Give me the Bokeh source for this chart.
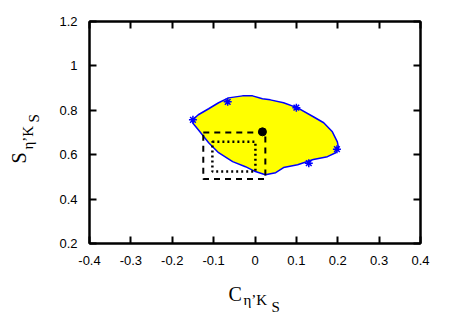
import math
from bokeh.plotting import figure
from bokeh.models import Range1d, LinearAxis, FixedTicker, Label, CustomJSTickFormatter
from bokeh.embed import file_html
from bokeh.resources import INLINE

# ---- data ----
x_ticks = [-0.4, -0.3, -0.2, -0.1, 0.0, 0.1, 0.2, 0.3, 0.4]
x_tick_labels = ["-0.4", "-0.3", "-0.2", "-0.1", "0", "0.1", "0.2", "0.3", "0.4"]
y_ticks = [0.2, 0.4, 0.6, 0.8, 1.0, 1.2]
y_tick_labels = ["0.2", "0.4", "0.6", "0.8", "1", "1.2"]

# allowed region (yellow) boundary
blob_x = [-0.151, -0.137, -0.112, -0.088, -0.064, -0.030, -0.006, 0.018, 0.037, 0.069,
          0.103, 0.141, 0.166, 0.187, 0.199, 0.202, 0.195, 0.175, 0.141, 0.103,
          0.069, 0.050, 0.025, 0.001, -0.023, -0.054, -0.088, -0.112, -0.137, -0.149]
blob_y = [0.757, 0.780, 0.807, 0.834, 0.856, 0.865, 0.865, 0.852, 0.847, 0.834,
          0.811, 0.771, 0.744, 0.703, 0.658, 0.631, 0.609, 0.591, 0.578, 0.555,
          0.542, 0.519, 0.510, 0.524, 0.546, 0.569, 0.609, 0.654, 0.712, 0.739]
edge_x = [-0.150, -0.066, 0.100, 0.130, 0.198]
edge_y = [0.757, 0.838, 0.812, 0.562, 0.625]

# experimental ranges
dash_box = dict(left=-0.125, right=0.025, bottom=0.49, top=0.70)
dot_box = dict(left=-0.103, right=0.001, bottom=0.524, top=0.658)
point_x = [0.018]
point_y = [0.703]

p = figure(width=442, height=315, output_backend="svg", toolbar_location=None,
           x_range=Range1d(-0.4, 0.4), y_range=Range1d(0.2, 1.2),
           min_border_left=89, min_border_right=22, min_border_top=21, min_border_bottom=72,
           background_fill_color="white", border_fill_color="white")
p.xgrid.visible = False
p.ygrid.visible = False
p.outline_line_color = "black"
p.outline_line_width = 2

def style(ax, ticks, labels, show):
    ax.ticker = FixedTicker(ticks=ticks)
    ax.axis_line_width = 2
    ax.major_tick_line_width = 2
    ax.major_tick_in = 7
    ax.major_tick_out = 0
    ax.minor_tick_line_color = None
    if show:
        ax.major_label_overrides = {t: l for t, l in zip(ticks, labels)}
        ax.major_label_text_font = "Liberation Sans"
        ax.major_label_text_font_size = "13px"
        ax.major_label_text_color = "black"
    else:
        ax.formatter = CustomJSTickFormatter(code="return ''")
        ax.major_label_text_font_size = "1px"
        ax.major_label_standoff = 0

style(p.xaxis[0], x_ticks, x_tick_labels, True)
style(p.yaxis[0], y_ticks, y_tick_labels, True)
p.xaxis[0].major_label_standoff = 12
p.yaxis[0].major_label_standoff = 12

top_ax = LinearAxis()
right_ax = LinearAxis()
style(top_ax, x_ticks, x_tick_labels, False)
style(right_ax, y_ticks, y_tick_labels, False)
p.add_layout(top_ax, "above")
p.add_layout(right_ax, "right")

p.patch(blob_x, blob_y, fill_color="#FFFF00", line_color="#0000FF", line_width=1.5)
p.scatter(edge_x, edge_y, marker="asterisk", size=8, line_color="#0000FF", line_width=1.5)

p.quad(left=[dash_box["left"]], right=[dash_box["right"]], bottom=[dash_box["bottom"]],
       top=[dash_box["top"]], fill_color=None, line_color="black", line_width=2, line_dash="6 5")
p.quad(left=[dot_box["left"]], right=[dot_box["right"]], bottom=[dot_box["bottom"]],
       top=[dot_box["top"]], fill_color=None, line_color="black", line_width=2.5, line_dash="2 3")
p.scatter(point_x, point_y, size=8, fill_color="black", line_color="black")

# axis titles: pieces placed in the side panels (not clipped to the frame)
serif = "Liberation Serif"
def lab(side, x, y, t, size, angle=0):
    p.add_layout(Label(x=x, y=y, text=t, text_font=serif, text_font_size=size,
                       text_align="left", text_baseline="alphabetic", angle=angle,
                       text_color="black"), side)

# x axis label C_{eta' K_S}
lab("right", -0.0640, -0.0297, "C", "20px")
lab("below", -0.0278, -0.0523, "η’K", "15px")
lab("below", 0.0399, -0.0838, "S", "15px")
# y axis label S_{eta' K_S}
a = math.pi / 2
lab("left", -0.5692, 0.5604, "S", "20px", a)
lab("left", -0.5498, 0.6234, "η’K", "15px", a)
lab("left", -0.5353, 0.7450, "S", "15px", a)

open("out.html", "w").write(file_html(p, INLINE))
